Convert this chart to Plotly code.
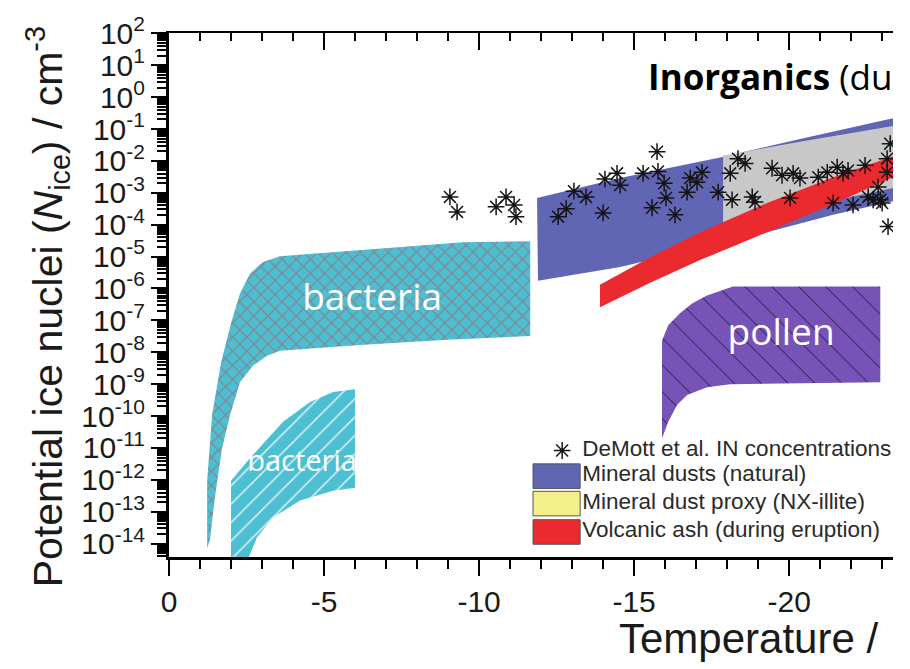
import numpy as np
import plotly.graph_objects as go

# ---- axis ticks -------------------------------------------------------------
x_tick_values = [0, -5, -10, -15, -20]
x_tick_labels = ["0", "-5", "-10", "-15", "-20"]
y_tick_exponents = list(range(-14, 3))
y_tick_labels = ["10<sup>%d</sup>" % e for e in y_tick_exponents]

# ---- regions (temperature in °C, log10 of concentration in cm^-3) -------------
bacteria_cross_T = [-1.23, -1.23, -1.39, -1.68, -2.0, -2.29, -2.61, -3.03, -3.58, -6.48,
                    -9.48, -11.65, -11.65, -8.97, -6.16, -3.58, -3.16, -2.71, -2.29, -1.97,
                    -1.71, -1.48, -1.32]
bacteria_cross_logN = [-14.14, -12.03, -9.96, -8.32, -7.09, -6.16, -5.54, -5.17, -4.99, -4.77,
                       -4.55, -4.52, -7.49, -7.61, -7.77, -7.95, -8.11, -8.42, -8.94, -9.96,
                       -11.01, -12.56, -13.89]

bacteria_hatch_T = [-2.0, -2.61, -3.68, -4.55, -5.29, -6.0, -6.0, -5.29, -4.23, -3.35,
                    -2.84, -2.5, -2.0]
bacteria_hatch_logN = [-12.03, -11.32, -10.18, -9.56, -9.25, -9.16, -12.25, -12.34, -12.65,
                       -13.18, -13.8, -14.6, -14.6]

pollen_T = [-15.9, -16.1, -16.48, -16.87, -17.35, -18.19, -22.94, -22.94, -18.1, -17.35,
            -16.71, -16.39, -16.1, -15.9]
pollen_logN = [-7.64, -7.15, -6.78, -6.47, -6.22, -5.94, -5.94, -8.94, -9.0, -9.1,
               -9.34, -9.65, -10.18, -10.7]

mineral_T = [-11.87, -14.55, -17.77, -20.35, -23.5, -23.5, -21.42, -19.29, -17.23, -14.55, -11.9]
mineral_logN = [-3.16, -2.54, -1.89, -1.31, -0.63, -3.23, -3.69, -4.24, -4.71, -5.33, -5.76]

illite_T = [-17.87, -20.35, -23.5, -23.5, -20.35, -17.87]
illite_logN = [-1.83, -1.40, -0.88, -2.82, -3.47, -3.94]

ash_top_T = [-13.9, -15.52, -17.13, -19.29, -21.42, -23.5]
ash_top_logN = [-5.88, -5.02, -4.24, -3.32, -2.51, -1.80]
ash_bottom_T = [-23.5, -21.42, -19.29, -17.13, -15.52, -13.9]
ash_bottom_logN = [-2.45, -3.35, -4.24, -5.11, -5.82, -6.59]

# ---- DeMott et al. IN concentrations ------------------------------------------
demott_T = [-9.06, -9.29, -10.55, -10.87, -11.13, -11.19, -12.55, -12.81, -13.06, -13.45,
            -14.0, -14.06, -14.45, -14.55, -15.29, -15.74, -15.77, -15.97, -16.03, -15.58,
            -16.32, -16.71, -16.81, -17.03, -17.19, -17.71, -18.10, -18.35, -18.58, -18.16,
            -18.81, -18.90, -19.45, -19.77, -20.13, -20.35, -20.03, -20.94, -21.23, -21.55,
            -21.74, -21.90, -21.42, -22.06, -22.45, -22.55, -22.71, -22.87, -23.16, -23.16,
            -23.0, -23.19, -23.26, -22.94]
demott_logN = [-3.13, -3.60, -3.44, -3.13, -3.38, -3.75, -3.75, -3.50, -2.95, -3.13,
               -3.63, -2.57, -2.39, -2.76, -2.39, -1.71, -2.33, -2.70, -3.16, -3.47,
               -3.69, -2.98, -2.54, -2.67, -2.36, -2.98, -2.39, -1.93, -2.08, -3.22,
               -3.13, -3.29, -2.23, -2.45, -2.39, -2.54, -3.16, -2.51, -2.36, -2.20,
               -2.39, -2.30, -3.32, -3.38, -2.14, -3.13, -3.22, -2.82, -1.93, -2.36,
               -3.32, -4.06, -1.46, -3.22]

CYAN = "#4CC0D2"
BLUE = "#6065B4"
GRAY = "#C8C8C8"
YELLOW = "#F3F08A"
RED = "#EA2A2E"
PURPLE = "#7753B8"
STAR = "#141414"
FONT = "Liberation Sans, Arial, sans-serif"
LABEL_FONT = "Open Sans, sans-serif"


def conc(logs):
    return list(10.0 ** np.asarray(logs, dtype=float))


def region(T, logN, color, pattern=None):
    kw = dict(x=T + [T[0]], y=conc(logN + [logN[0]]), mode="lines", fill="toself",
              fillcolor=color, line=dict(width=0, color=color),
              hoverinfo="skip", showlegend=False)
    if pattern:
        kw["fillpattern"] = pattern
    return go.Scatter(**kw)


fig = go.Figure()

fig.add_trace(region(bacteria_cross_T, bacteria_cross_logN, CYAN,
                     dict(shape="x", fgcolor="#85858F", bgcolor=CYAN, size=10,
                          solidity=0.22, fillmode="replace")))
fig.add_trace(region(bacteria_hatch_T, bacteria_hatch_logN, CYAN,
                     dict(shape="/", fgcolor="#D3EDF3", bgcolor=CYAN, size=13,
                          solidity=0.12, fillmode="replace")))
fig.add_trace(region(mineral_T, mineral_logN, BLUE))
fig.add_trace(region(illite_T, illite_logN, GRAY))
fig.add_trace(region(ash_top_T + ash_bottom_T, ash_top_logN + ash_bottom_logN, RED))
fig.add_trace(region(pollen_T, pollen_logN, PURPLE,
                     dict(shape="\\", fgcolor="#1A1238", bgcolor=PURPLE, size=19,
                          solidity=0.05, fillmode="replace")))

# region labels
labels_T = [-6.55, -4.29, -19.74]
labels_logN = [-6.38, -11.51, -7.49]
labels_text = ["bacteria", "bacteria", "pollen"]
labels_size = [37, 29, 37]
fig.add_trace(go.Scatter(x=labels_T, y=conc(labels_logN), mode="text", text=labels_text,
                         textfont=dict(family=LABEL_FONT, size=labels_size, color="white"),
                         textposition="middle center", hoverinfo="skip", showlegend=False))
fig.add_trace(go.Scatter(x=[-15.45], y=conc([0.49]), mode="text",
                         text=["<b>Inorganics</b> (dust)"],
                         textfont=dict(family=LABEL_FONT, size=35, color="black"),
                         textposition="middle right", hoverinfo="skip", showlegend=False))

# measurements
star = dict(symbol="asterisk-open", size=14, color=STAR, line=dict(width=1.5, color=STAR))
fig.add_trace(go.Scatter(x=demott_T, y=conc(demott_logN), mode="markers", marker=star,
                         hoverinfo="skip", showlegend=False))

# key drawn inside the axes
key_names = ["DeMott et al. IN concentrations", "Mineral dusts (natural)",
             "Mineral dust proxy (NX-illite)", "Volcanic ash (during eruption)"]
key_colors = [None, BLUE, YELLOW, RED]
key_rows_logN = [-11.08, -11.87, -12.73, -13.62]
key_box_T = [-11.74, -13.26]
key_text_T = -13.33
fig.add_trace(go.Scatter(x=[-12.68], y=conc([key_rows_logN[0]]), mode="markers",
                         marker=star, hoverinfo="skip", showlegend=False))
for name, col, row in zip(key_names[1:], key_colors[1:], key_rows_logN[1:]):
    lo, hi = row - 0.40, row + 0.37
    fig.add_trace(go.Scatter(
        x=[key_box_T[0], key_box_T[1], key_box_T[1], key_box_T[0], key_box_T[0]],
        y=conc([lo, lo, hi, hi, lo]), mode="lines", fill="toself", fillcolor=col,
        line=dict(width=1, color="#555555"), hoverinfo="skip", showlegend=False))
fig.add_trace(go.Scatter(x=[key_text_T] * 4, y=conc(key_rows_logN), mode="text",
                         text=key_names, textposition="middle right",
                         textfont=dict(family=FONT, size=22.5, color="#2a2a2a"),
                         hoverinfo="skip", showlegend=False))

# helper trace so the mirrored top axis is built
fig.add_trace(go.Scatter(x=[-5], y=[1e-5], xaxis="x2", mode="markers",
                         marker=dict(opacity=0), hoverinfo="skip", showlegend=False))

x_range = [0, -23.35]
x_minor = [v for v in range(-1, -24, -1) if v % 5 != 0]
y_minor = [m * 10.0 ** e for e in range(-15, 2) for m in range(2, 10)]

fig.update_layout(
    width=910, height=669,
    margin=dict(l=169, r=17, t=26, b=112),
    paper_bgcolor="white", plot_bgcolor="white",
    font=dict(family=FONT, color="#1a1a1a"),
    xaxis=dict(range=x_range, tickmode="array", tickvals=x_tick_values,
               ticktext=x_tick_labels, ticks="outside", ticklen=16, tickwidth=2,
               tickcolor="black", showline=True, linewidth=3, linecolor="black",
               showgrid=False, zeroline=False, tickfont=dict(size=30),
               minor=dict(tickmode="array", tickvals=x_minor, ticks="outside",
                          ticklen=9, tickwidth=2, tickcolor="black")),
    xaxis2=dict(range=x_range, overlaying="x", side="top", anchor="y",
                tickmode="array", tickvals=x_tick_values, showticklabels=False,
                ticks="inside", ticklen=17, tickwidth=2, tickcolor="black",
                showline=True, linewidth=2, linecolor="black", showgrid=False,
                zeroline=False,
                minor=dict(tickmode="array", tickvals=x_minor, ticks="inside",
                           ticklen=8, tickwidth=2, tickcolor="black")),
    yaxis=dict(type="log", range=[-14.42, 2.01], tickmode="array",
               tickvals=[10.0 ** e for e in y_tick_exponents], ticktext=y_tick_labels,
               ticks="outside", ticklen=15, tickwidth=2, tickcolor="black",
               showline=True, linewidth=3, linecolor="black", showgrid=False,
               zeroline=False, tickfont=dict(size=30),
               minor=dict(tickmode="array", tickvals=y_minor, ticks="outside",
                          ticklen=9, tickwidth=1.5, tickcolor="black")),
    annotations=[
        dict(text="Potential ice nuclei (<i>N</i><sub>ice</sub>) / cm<sup>-3</sup>",
             textangle=-90, xref="paper", yref="paper",
             x=(48 - 169) / 724, y=(557 - 304) / 531, xanchor="center",
             yanchor="middle", showarrow=False, font=dict(size=41)),
        dict(text="Temperature /", xref="paper", yref="paper",
             x=(617 - 169) / 724, y=-(640 - 557) / 531, xanchor="left",
             yanchor="middle", showarrow=False, font=dict(size=42)),
    ],
)

fig.write_html("out.html")
